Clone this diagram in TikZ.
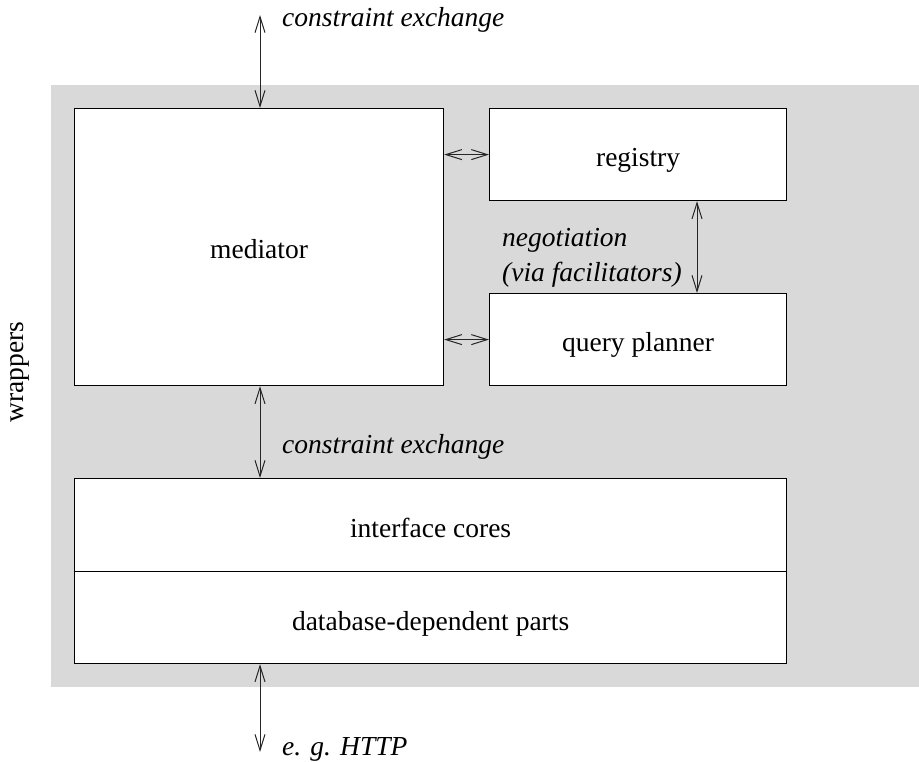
\documentclass[tikz,border=0pt]{standalone}
\usepackage{fontspec}
\setmainfont{Liberation Serif}
\usetikzlibrary{arrows.meta}
\definecolor{bggray}{RGB}{217,217,217}
\begin{document}
\begin{tikzpicture}[x=1pt,y=-1pt,
  box/.style={draw=black,fill=white,line width=1.2pt,inner sep=0pt,anchor=north west},
  txt/.style={inner sep=0pt,anchor=base,font=\fontsize{27.5}{33}\selectfont},
  lbl/.style={inner sep=0pt,anchor=base west,font=\fontsize{27.5}{33}\selectfont\itshape},
  link/.style={line width=1pt,draw=black!85,{Straight Barb[length=16pt,width=10pt]}-{Straight Barb[length=16pt,width=10pt]}}]
\useasboundingbox (0,0) rectangle (919,762);
\fill[bggray] (51,85) rectangle (919,687);
\node[box,minimum width=369pt,minimum height=277pt] (med) at (74,108) {};
\node[box,minimum width=297pt,minimum height=92pt] (reg) at (489,108) {};
\node[box,minimum width=297pt,minimum height=92pt] (qp) at (489,293) {};
\node[box,minimum width=712pt,minimum height=93pt] (ic) at (74,478) {};
\node[box,minimum width=712pt,minimum height=92pt] (db) at (74,571) {};
\node[txt] (tmed) at ([yshift=-11.5pt]med.center) {mediator};
\node[txt] (treg) at ([yshift=-12pt]reg.center) {registry};
\node[txt] (tqp) at ([yshift=-12pt]qp.center) {query planner};
\node[txt] (tic) at ([yshift=-12pt]ic.center) {interface cores};
\node[txt] (tdb) at ([yshift=-13pt]db.center) {database-dependent parts};
\coordinate (top) at (260,15);
\coordinate (bot) at (260,752);
\draw[link] (top) -- (top |- med.north);
\draw[link] (med.south -| top) -- (ic.north -| top);
\draw[link] (db.south -| bot) -- (bot);
\draw[link] (med.east |- reg.west) -- (reg.west);
\draw[link] (med.east |- qp.west) -- (qp.west);
\draw[link] (reg.south -| 697,0) -- (qp.north -| 697,0);
\node[lbl] (l1) at (282,27) {constraint exchange};
\node[lbl] (l2) at (282,453) {constraint exchange};
\node[lbl] (l3) at (282,755) {e. g. HTTP};
\node[lbl] (l4) at (502,247) {negotiation};
\node[lbl] (l5) at (502,282) {(via facilitators)};
\node[inner sep=0pt,rotate=90,font=\fontsize{27.5}{33}\selectfont] (wr) at (20,372) {wrappers};
\end{tikzpicture}
\end{document}
